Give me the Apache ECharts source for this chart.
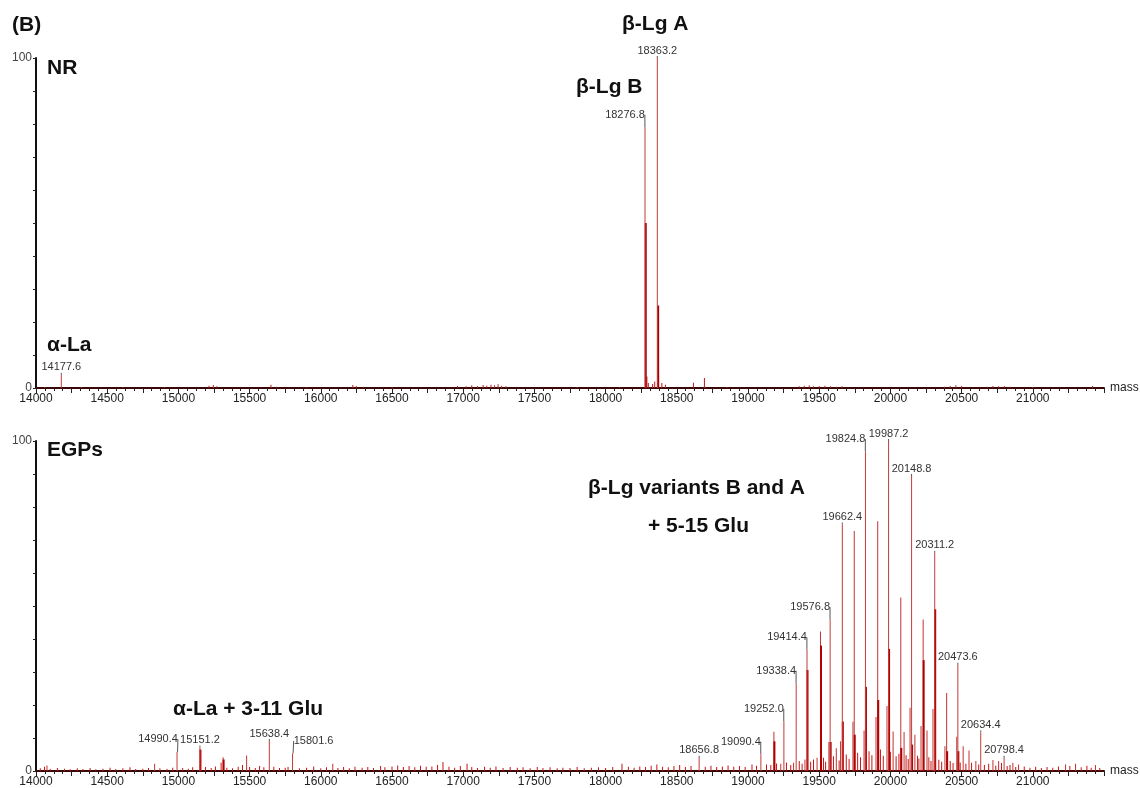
<!DOCTYPE html>
<html>
<head>
  <meta charset="utf-8">
  <title>Deconvoluted mass spectra NR / EGPs</title>
  <script src="https://cdn.jsdelivr.net/npm/echarts@6/dist/echarts.min.js"></script>
  <style>
    html, body { margin: 0; padding: 0; background: #fff; }
    #chart { width: 1140px; height: 788px; }
  </style>
</head>
<body>
<div id="chart"></div>
<script>
// ---- data: [mass, % intensity] ----
// top panel (NR)
const nrLabeled = [[14177.6, 4.0], [18276.8, 79], [18363.2, 100]];
const nrDark = [[18278.5, 50], [18365.5, 25]];
const nrPeaks = [[18290, 3.5], [18300, 1.5], [18330, 1.2], [18345, 2.0], [18372, 4.0],
  [18395, 1.5], [18420, 1.0], [18617, 1.6], [18694, 3.0]];
const nrNoise = [[14060, 0.3], [14320, 0.3], [14610, 0.3], [14900, 0.3], [15215, 0.7], [15245, 0.9],
  [15270, 0.5], [15650, 1.0], [15690, 0.4], [15900, 0.3], [16225, 0.9], [16250, 0.6], [16300, 0.4],
  [16500, 0.3], [16960, 0.6], [17020, 0.5], [17060, 0.8], [17100, 0.6], [17140, 0.9], [17165, 0.7],
  [17195, 1.0], [17220, 0.8], [17245, 1.1], [17270, 0.7], [17300, 0.5], [17800, 0.3], [18100, 0.3],
  [18850, 0.3], [19360, 0.5], [19395, 0.7], [19430, 0.8], [19460, 0.5], [19500, 0.6], [19540, 0.7],
  [19580, 0.5], [19620, 0.4], [19660, 0.5], [20380, 0.4], [20420, 0.6], [20460, 0.8], [20500, 0.6],
  [20680, 0.4], [20720, 0.6], [20760, 0.5], [20800, 0.6], [20840, 0.4], [21000, 0.3], [21420, 0.6]];

// bottom panel (EGPs)
const egpLabeled = [[14990.4, 5.8], [15151.2, 7.1], [15638.4, 9.1], [15801.6, 5.3],
  [18656.8, 4.0], [19090.4, 5.1], [19252.0, 15.0], [19338.4, 26.6], [19414.4, 36.7],
  [19576.8, 45.9], [19662.4, 74.7], [19824.8, 96.8], [19987.2, 100], [20148.8, 89.4],
  [20311.2, 66.1], [20473.6, 32.2], [20634.4, 11.7], [20798.4, 4.0]];
const egpDark = [[19987.2, 37], [20311.2, 49], [19824.8, 25.5], [19911, 21.5], [19509, 38],
  [19414.4, 30.6], [19182, 9], [20230, 33.6], [19662.4, 15], [19746, 11], [20148.8, 8],
  [20073, 7], [19576.8, 8.8], [20395, 6], [20473.6, 6], [15151.2, 6.5], [15314, 3.5]];
const egpPeaks = [[19182, 11.9], [19509, 42.3], [19746, 72.7], [19911, 75.7], [20073, 52.6],
  [20230, 45.9], [20395, 23.6], [20466, 10.4], [20552, 6.2], [15314, 4.2], [15479, 4.7],
  [14833, 2.2], [14077, 1.7], [16084, 2.2], [19976, 19.7], [19899, 16.4], [20138, 19.2],
  [20215, 13.6], [20299, 18.8], [19737, 14.9], [19815, 12.3], [20019, 12], [20096, 11.8],
  [20172, 11], [20257, 12.3], [20383, 7.5], [20511, 7.5], [20720, 3.3], [20760, 3], [19568, 8.8],
  [19650, 9], [19620, 6.9], [19485, 4], [19400, 3.5], [19320, 2.5], [19230, 2.2], [20600, 3],
  [20860, 2.5], [20900, 2], [21300, 2.2], [21230, 2], [21440, 1.8]];
const egpNoise = [[14030, 0.8], [14060, 1.3], [14100, 0.6], [14150, 0.9], [14200, 0.7], [14240, 0.5],
  [14290, 0.8], [14330, 0.6], [14380, 0.9], [14420, 0.5], [14470, 0.7], [14520, 1.0], [14560, 0.6],
  [14610, 0.8], [14660, 1.1], [14700, 0.6], [14750, 0.7], [14790, 0.9], [14870, 0.8], [14920, 0.6],
  [14960, 1.0], [15030, 0.9], [15070, 0.7], [15100, 1.1], [15190, 1.2], [15230, 0.9], [15260, 1.4],
  [15300, 2.6], [15340, 1.0], [15380, 0.8], [15420, 1.3], [15450, 1.8], [15500, 1.2], [15540, 0.9],
  [15570, 1.5], [15600, 1.1], [15670, 1.3], [15710, 0.9], [15750, 1.0], [15770, 1.2], [15850, 0.8],
  [15900, 1.0], [15950, 1.4], [16000, 0.8], [16040, 1.1], [16120, 0.9], [16160, 1.2], [16200, 0.8],
  [16240, 1.3], [16290, 1.0], [16330, 1.2], [16370, 0.9], [16420, 1.5], [16450, 1.1], [16500, 1.4],
  [16540, 1.7], [16580, 1.2], [16620, 1.5], [16660, 1.1], [16700, 1.6], [16740, 1.3], [16780, 1.4],
  [16820, 1.8], [16858, 2.7], [16900, 1.3], [16940, 1.0], [16980, 1.5], [17027, 2.2], [17060, 1.2],
  [17100, 0.9], [17150, 1.3], [17190, 1.0], [17230, 1.4], [17280, 0.9], [17330, 1.2], [17380, 1.0],
  [17420, 1.1], [17470, 0.8], [17520, 1.2], [17560, 0.9], [17610, 1.1], [17660, 0.8], [17700, 1.0],
  [17750, 0.9], [17800, 1.2], [17850, 0.8], [17900, 1.0], [17950, 1.1], [18000, 0.9], [18050, 1.2],
  [18115, 2.2], [18160, 1.3], [18200, 1.0], [18240, 1.4], [18280, 1.2], [18320, 1.6], [18360, 2.0],
  [18400, 1.3], [18440, 1.1], [18480, 1.5], [18520, 1.8], [18560, 1.2], [18600, 1.5], [18700, 1.3],
  [18740, 1.6], [18780, 1.2], [18820, 1.4], [18860, 1.7], [18900, 1.3], [18940, 1.5], [18980, 1.2],
  [19028, 2.0], [19060, 1.6], [19130, 2.0], [19160, 1.8], [19200, 2.3], [19270, 2.6], [19300, 1.8],
  [19360, 3.0], [19380, 2.2], [19440, 2.8], [19460, 3.5], [19530, 4.0], [19545, 2.8], [19600, 4.5],
  [19640, 3.2], [19690, 5.0], [19710, 3.6], [19770, 5.5], [19790, 4.2], [19850, 6.0], [19870, 4.8],
  [19930, 6.5], [19950, 4.6], [20000, 5.8], [20040, 4.5], [20060, 5.2], [20110, 4.8], [20125, 3.6],
  [20190, 4.6], [20200, 3.8], [20270, 4.2], [20285, 3.0], [20340, 3.4], [20360, 2.8], [20420, 3.0],
  [20440, 2.4], [20490, 2.6], [20530, 2.2], [20570, 2.5], [20620, 2.0], [20660, 1.8], [20690, 2.2],
  [20740, 1.6], [20780, 2.4], [20820, 1.5], [20840, 1.8], [20880, 1.2], [20940, 1.4], [20980, 1.0],
  [21020, 1.3], [21060, 0.9], [21100, 1.2], [21140, 1.0], [21180, 1.4], [21260, 1.5], [21340, 1.1],
  [21380, 1.6], [21410, 1.0], [21470, 0.9]];

const massMin = 14000, massMax = 21500;

// labels drawn off to one side with a small leader line (px shift)
const leaderShift = {
  '18276.8': -20, '14990.4': -19, '15801.6': 21, '19090.4': -20, '19252.0': -20,
  '19338.4': -20, '19414.4': -20, '19576.8': -20, '19824.8': -20
};

const FONT = '"Liberation Sans", Arial, sans-serif';

function xAxisFor(gridIndex) {
  return {
    type: 'value', gridIndex: gridIndex, min: massMin, max: massMax, interval: 250,
    name: 'mass', nameLocation: 'end', nameGap: 6,
    nameTextStyle: { fontSize: 12, color: '#222', fontFamily: FONT },
    axisLine: { onZero: true, lineStyle: { color: '#3a0606', width: 2 } },
    axisTick: { show: true, length: 5, lineStyle: { color: '#222', width: 1 } },
    minorTick: { show: true, splitNumber: 4, length: 3, lineStyle: { color: '#222', width: 1 } },
    axisLabel: {
      fontSize: 12, color: '#222', fontFamily: FONT, margin: 5,
      formatter: function (v) { return (v % 500 === 0 && v < massMax) ? String(v) : ''; }
    },
    splitLine: { show: false }
  };
}

function yAxisFor(gridIndex) {
  return {
    type: 'value', gridIndex: gridIndex, min: 0, max: 100, interval: 10,
    name: '%', nameLocation: 'middle', nameGap: 10, nameRotate: 90,
    nameTextStyle: { fontSize: 11, color: '#333', fontFamily: FONT },
    axisLine: { show: true, lineStyle: { color: '#111', width: 2 } },
    axisTick: { show: true, length: 3, lineStyle: { color: '#222' } },
    axisLabel: {
      fontSize: 12, color: '#444', fontFamily: FONT, margin: 4,
      formatter: function (v) { return (v === 0 || v === 100) ? String(v) : ''; }
    },
    splitLine: { show: false }
  };
}

function sticks(data, gridIndex, width, color, z) {
  return {
    type: 'bar', xAxisIndex: gridIndex, yAxisIndex: gridIndex,
    data: data, barWidth: width, barGap: '-100%', z: z,
    itemStyle: { color: color }, silent: true
  };
}

function labeledSticks(data, gridIndex) {
  const s = sticks(data, gridIndex, 1, '#c53a3a', 4);
  s.label = {
    show: true, position: 'top', distance: 2,
    fontSize: 11, color: '#333', fontFamily: FONT,
    formatter: function (p) { return p.value[0].toFixed(1); }
  };
  s.labelLayout = function (p) {
    const dx = leaderShift[p.text];
    if (dx === undefined) return {};
    return { dx: dx, dy: -5 };
  };
  s.labelLine = { show: true, lineStyle: { color: '#555', width: 1 } };
  return s;
}

function annot(text, left, top) {
  return {
    type: 'text', left: left, top: top, z: 100,
    style: { text: text, font: 'bold 21px ' + FONT, fill: '#111' }
  };
}

const myChart = echarts.init(document.getElementById('chart'));
const option = {
  animation: false,
  backgroundColor: '#fff',
  grid: [
    { left: 36, right: 36, top: 58, height: 330, containLabel: false, outerBoundsMode: 'none' },
    { left: 36, right: 36, top: 441, height: 330, containLabel: false, outerBoundsMode: 'none' }
  ],
  xAxis: [xAxisFor(0), xAxisFor(1)],
  yAxis: [yAxisFor(0), yAxisFor(1)],
  series: [
    sticks(nrNoise, 0, 1, '#b22222', 1),
    sticks(nrPeaks, 0, 1, '#b81c1c', 2),
    sticks(nrDark, 0, 2, '#a80000', 3),
    labeledSticks(nrLabeled, 0),
    sticks(egpNoise, 1, 1, '#c81414', 1),
    sticks(egpPeaks, 1, 1, '#c23333', 2),
    sticks(egpDark, 1, 2, '#b00000', 3),
    labeledSticks(egpLabeled, 1)
  ],
  graphic: [
    annot('(B)', 12, 15),
    annot('NR', 47, 58),
    annot('α-La', 47, 335),
    annot('β-Lg A', 622, 14),
    annot('β-Lg B', 576, 77),
    annot('EGPs', 47, 440),
    annot('α-La + 3-11 Glu', 173, 699),
    annot('β-Lg variants B and A', 588, 478),
    annot('+ 5-15 Glu', 648, 516)
  ]
};
myChart.setOption(option);
</script>
</body>
</html>
